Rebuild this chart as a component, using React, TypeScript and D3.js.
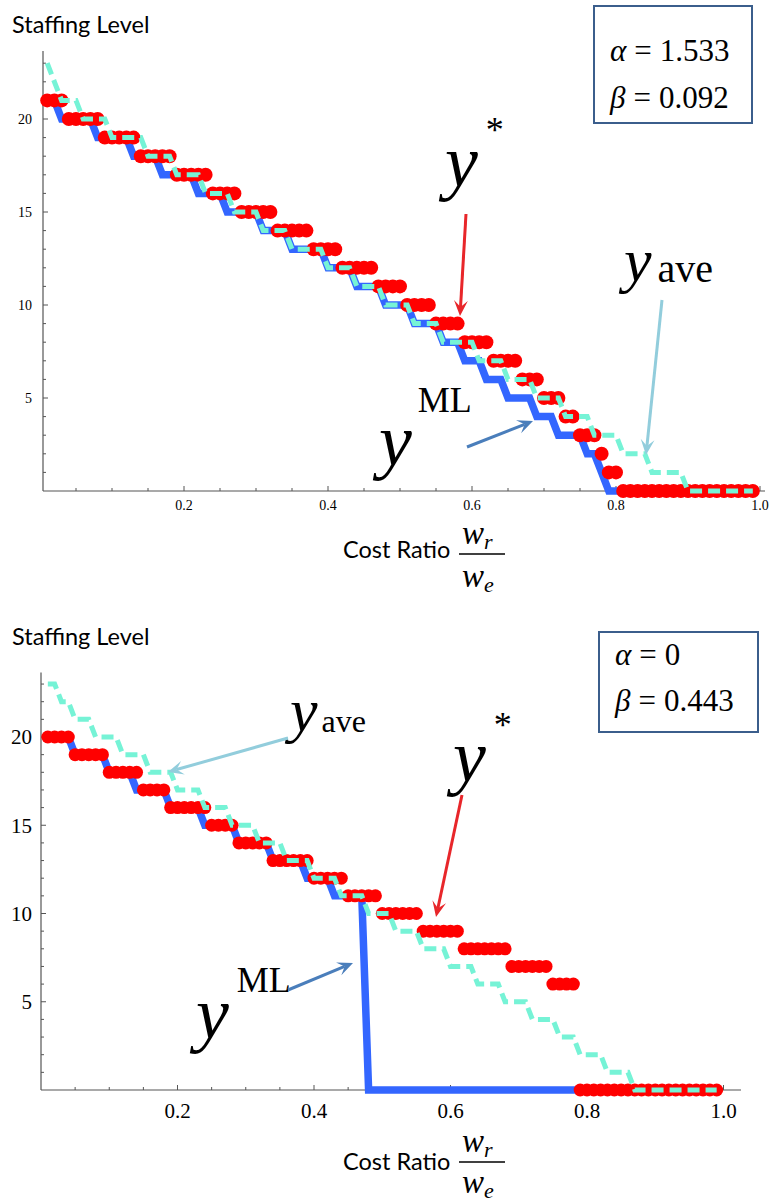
import { useEffect, useRef } from "react";
import * as d3 from "d3";

// cost ratio grid w_r / w_e sampled every 0.01
const costRatio = d3.range(1, 100).map((i) => i / 100);

// top panel (alpha = 1.533, beta = 0.092)
const topStar = [
  21, 21, 21, 20, 20, 20, 20, 20, 19, 19, 19, 19, 19, 18, 18, 18, 18, 18, 17, 17,
  17, 17, 17, 16, 16, 16, 16, 15, 15, 15, 15, 15, 14, 14, 14, 14, 14, 13, 13, 13,
  13, 12, 12, 12, 12, 12, 11, 11, 11, 11, 10, 10, 10, 10, 9, 9, 9, 9, 8, 8,
  8, 8, 7, 7, 7, 7, 6, 6, 6, 5, 5, 5, 4, 4, 3, 3, 3, 2, 1, 1,
  0, 0, 0, 0, 0, 0, 0, 0, 0, 0, 0, 0, 0, 0, 0, 0, 0, 0, 0,
];
const topML = [
  21, 21, 20, 20, 20, 20, 20, 19, 19, 19, 19, 19, 18, 18, 18, 18, 17, 17, 17, 17,
  17, 16, 16, 16, 16, 15, 15, 15, 15, 15, 14, 14, 14, 14, 13, 13, 13, 13, 13, 12,
  12, 12, 12, 11, 11, 11, 11, 10, 10, 10, 10, 9, 9, 9, 9, 8, 8, 8, 7, 7,
  7, 6, 6, 6, 5, 5, 5, 5, 4, 4, 4, 3, 3, 3, 3, 2, 2, 1, 0, 0,
  0, 0, 0, 0, 0, 0, 0, 0, 0, 0, 0, 0, 0, 0, 0, 0, 0, 0, 0,
];
const topAve = [
  23, 22, 21, 21, 21, 20, 20, 20, 20, 19, 19, 19, 19, 19, 18, 18, 18, 18, 17, 17,
  17, 17, 16, 16, 16, 16, 15, 15, 15, 15, 14, 14, 14, 14, 13, 13, 13, 13, 13, 12,
  12, 12, 12, 11, 11, 11, 11, 10, 10, 10, 10, 9, 9, 9, 9, 8, 8, 8, 8, 8,
  7, 7, 7, 7, 6, 6, 6, 6, 5, 5, 5, 5, 4, 4, 4, 4, 3, 3, 3, 3,
  2, 2, 2, 2, 1, 1, 1, 1, 1, 0, 0, 0, 0, 0, 0, 0, 0, 0, 0,
];

// bottom panel (alpha = 0, beta = 0.443)
const botStar = [
  20, 20, 20, 20, 19, 19, 19, 19, 19, 18, 18, 18, 18, 18, 17, 17, 17, 17, 16, 16,
  16, 16, 16, 16, 15, 15, 15, 15, 14, 14, 14, 14, 14, 13, 13, 13, 13, 13, 13, 12,
  12, 12, 12, 12, 11, 11, 11, 11, 11, 10, 10, 10, 10, 10, 10, 9, 9, 9, 9, 9,
  9, 8, 8, 8, 8, 8, 8, 8, 7, 7, 7, 7, 7, 7, 6, 6, 6, 6, 0, 0,
  0, 0, 0, 0, 0, 0, 0, 0, 0, 0, 0, 0, 0, 0, 0, 0, 0, 0, 0,
];
const botML = [
  20, 20, 20, 20, 19, 19, 19, 19, 19, 18, 18, 18, 18, 17, 17, 17, 17, 17, 16, 16,
  16, 16, 16, 15, 15, 15, 15, 15, 14, 14, 14, 14, 14, 13, 13, 13, 13, 13, 12, 12,
  12, 12, 11, 11, 11, 11, 11, 0, 0, 0, 0, 0, 0, 0, 0, 0, 0, 0, 0, 0,
  0, 0, 0, 0, 0, 0, 0, 0, 0, 0, 0, 0, 0, 0, 0, 0, 0, 0, 0, 0,
  0, 0, 0, 0, 0, 0, 0, 0, 0, 0, 0, 0, 0, 0, 0, 0, 0, 0, 0,
];
const botAve = [
  23, 23, 22, 22, 21, 21, 21, 20, 20, 20, 20, 19, 19, 19, 19, 18, 18, 18, 18, 17,
  17, 17, 17, 16, 16, 16, 16, 15, 15, 15, 15, 14, 14, 14, 14, 13, 13, 13, 13, 12,
  12, 12, 12, 11, 11, 11, 11, 10, 10, 10, 10, 9, 9, 9, 9, 8, 8, 8, 8, 7,
  7, 7, 7, 6, 6, 6, 6, 5, 5, 5, 5, 4, 4, 4, 4, 3, 3, 3, 2, 2,
  2, 2, 1, 1, 1, 1, 0, 0, 0, 0, 0, 0, 0, 0, 0, 0, 0, 0, 0,
];

const xMajor = [0.2, 0.4, 0.6, 0.8, 1.0];
const yMajor = [5, 10, 15, 20];

const RED = "#ff0000";
const BLUE = "#3366ff";
const CYAN = "#76f3d6";

const serif = "font-family: 'Liberation Serif', Tinos, 'Times New Roman', serif";
const sans = "font-family: Lato, 'Open Sans', sans-serif";

function arrow(g, x1, y1, x2, y2, color, w) {
  const a = Math.atan2(y2 - y1, x2 - x1);
  const len = 17, spread = 0.42, notch = 9;
  const bx = x2 - Math.cos(a) * notch, by = y2 - Math.sin(a) * notch;
  g.append("line")
    .attr("x1", x1).attr("y1", y1).attr("x2", bx).attr("y2", by)
    .attr("stroke", color).attr("stroke-width", w);
  const p = d3.path();
  p.moveTo(x2, y2);
  p.lineTo(x2 - Math.cos(a - spread) * len, y2 - Math.sin(a - spread) * len);
  p.lineTo(bx, by);
  p.lineTo(x2 - Math.cos(a + spread) * len, y2 - Math.sin(a + spread) * len);
  p.closePath();
  g.append("path").attr("d", p.toString()).attr("fill", color);
}

function drawPanel(svg, c) {
  const g = svg.append("g");
  const x = d3.scaleLinear().domain([0, 1]).range(c.xRange);
  const y = d3.scaleLinear().domain([0, 20]).range(c.yRange);

  // axes
  g.append("line").attr("x1", c.axisX).attr("x2", c.axisX)
    .attr("y1", y(23.65)).attr("y2", y(0)).attr("stroke", "#555").attr("stroke-width", 1.2);
  g.append("line").attr("x1", c.axisX).attr("x2", c.xEnd)
    .attr("y1", y(0)).attr("y2", y(0)).attr("stroke", "#555").attr("stroke-width", 1.2);

  const xMinor = d3.range(1, 21).map((i) => i / 20).filter((v) => Math.round(v * 100) % 20 !== 0);
  g.selectAll(".xminor").data(xMinor).join("line")
    .attr("x1", (d) => x(d)).attr("x2", (d) => x(d))
    .attr("y1", y(0)).attr("y2", y(0) - 3).attr("stroke", "#555");
  g.selectAll(".xmajor").data(xMajor).join("line")
    .attr("x1", (d) => x(d)).attr("x2", (d) => x(d))
    .attr("y1", y(0)).attr("y2", y(0) - 5).attr("stroke", "#555");
  g.selectAll(".xlab").data(xMajor).join("text")
    .attr("x", (d) => x(d)).attr("y", y(0) + c.xLabDy)
    .attr("text-anchor", "middle").attr("style", serif).attr("font-size", c.tickFont)
    .text((d) => d3.format(".1f")(d));

  const yMinor = d3.range(1, 24).filter((v) => v % 5 !== 0);
  g.selectAll(".yminor").data(yMinor).join("line")
    .attr("x1", c.axisX).attr("x2", c.axisX + 3)
    .attr("y1", (d) => y(d)).attr("y2", (d) => y(d)).attr("stroke", "#555");
  g.selectAll(".ymajor").data(yMajor).join("line")
    .attr("x1", c.axisX).attr("x2", c.axisX + 5)
    .attr("y1", (d) => y(d)).attr("y2", (d) => y(d)).attr("stroke", "#555");
  g.selectAll(".ylab").data(yMajor).join("text")
    .attr("x", c.yLabX).attr("y", (d) => y(d)).attr("dy", "0.35em")
    .attr("text-anchor", "end").attr("style", serif).attr("font-size", c.tickFont)
    .text((d) => d);

  const line = d3.line().x((d) => x(d[0])).y((d) => y(d[1]));

  g.append("path").datum(costRatio.map((v, i) => [v, c.ml[i]]))
    .attr("d", line).attr("fill", "none").attr("stroke", BLUE)
    .attr("stroke-width", 7.5).attr("stroke-linejoin", "miter");

  g.selectAll(".dot").data(costRatio.map((v, i) => [v, c.star[i]])).join("circle")
    .attr("cx", (d) => x(d[0])).attr("cy", (d) => y(d[1])).attr("r", c.r).attr("fill", RED);

  g.append("path").datum(costRatio.map((v, i) => [v, c.ave[i]]))
    .attr("d", line).attr("fill", "none").attr("stroke", CYAN)
    .attr("stroke-width", 5).attr("stroke-dasharray", "12,6");

  // axis titles
  g.append("text").attr("x", 12).attr("y", c.titleY).attr("style", sans)
    .attr("font-size", 23.5).text("Staffing Level");
  g.append("text").attr("x", 343).attr("y", c.costY).attr("style", sans)
    .attr("font-size", 23.5).text("Cost Ratio");
  g.append("line").attr("x1", 459).attr("x2", 505).attr("y1", c.fracY).attr("y2", c.fracY)
    .attr("stroke", "#000").attr("stroke-width", 1.3);
  const num = g.append("text").attr("x", 462).attr("y", c.fracY - 10)
    .attr("style", serif).attr("font-style", "italic").attr("font-size", 33);
  num.append("tspan").text("w");
  num.append("tspan").attr("dy", 5).attr("font-size", 22).text("r");
  const den = g.append("text").attr("x", 462).attr("y", c.denY)
    .attr("style", serif).attr("font-style", "italic").attr("font-size", 33);
  den.append("tspan").text("w");
  den.append("tspan").attr("dy", 5).attr("font-size", 22).text("e");

  // parameter box
  g.append("rect").attr("x", c.box[0]).attr("y", c.box[1]).attr("width", c.box[2])
    .attr("height", c.box[3]).attr("fill", "#fff").attr("stroke", "#3b5e8c").attr("stroke-width", 2);
  [["α", c.alpha, c.box[1] + c.boxRow[0]], ["β", c.beta, c.box[1] + c.boxRow[1]]].forEach(([s, v, yy]) => {
    const t = g.append("text").attr("x", c.box[0] + 16).attr("y", yy)
      .attr("style", serif).attr("font-size", 31);
    t.append("tspan").attr("font-style", "italic").text(s);
    t.append("tspan").attr("dx", 8).text("=");
    t.append("tspan").attr("dx", 8).text(v);
  });

  // series labels
  const lab = (px, py, size, sup, supSize, dx, dy) => {
    const t = g.append("text").attr("x", px).attr("y", py).attr("style", serif).attr("font-size", size);
    t.append("tspan").attr("font-style", "italic").text("y");
    t.append("tspan").attr("dx", dx).attr("dy", dy).attr("font-size", supSize).text(sup);
  };
  c.labels.forEach((l) => lab(...l));
  c.arrows.forEach((a) => arrow(g, ...a));
}

export default function App() {
  const ref = useRef(null);
  useEffect(() => {
    const svg = d3.select(ref.current);
    svg.selectAll("*").remove();
    drawPanel(svg, {
      xRange: [40, 760], yRange: [491, 119], axisX: 43, xEnd: 765,
      star: topStar, ml: topML, ave: topAve, r: 7,
      tickFont: 14, xLabDy: 19, yLabX: 32,
      titleY: 33, costY: 558, fracY: 554, denY: 587,
      box: [594, 6, 158, 117], boxRow: [55, 102], alpha: "1.533", beta: "0.092",
      labels: [
        [445, 186, 74, "*", 36, 8, -44],
        [624, 281, 62, "ave", 40, 6, 1],
        [379, 465, 74, "ML", 36, 6, -53],
      ],
      arrows: [
        [466, 214, 460, 316, "#e8262a", 3],
        [662, 300, 646, 455, "#92cddc", 3],
        [467, 447, 533, 421, "#4a7ebb", 3],
      ],
    });
    drawPanel(svg, {
      xRange: [41, 723.5], yRange: [1090, 737], axisX: 41, xEnd: 741,
      star: botStar, ml: botML, ave: botAve, r: 6.5,
      tickFont: 21, xLabDy: 28, yLabX: 32,
      titleY: 645, costY: 1170, fracY: 1162, denY: 1193,
      box: [599, 632, 159, 100], boxRow: [33, 79], alpha: "0", beta: "0.443",
      labels: [
        [453, 781, 74, "*", 36, 8, -44],
        [290, 731, 62, "ave", 32, 4, 1],
        [196, 1038, 74, "ML", 36, 8, -46],
      ],
      arrows: [
        [462, 795, 436, 917, "#e8262a", 3],
        [288, 738, 168, 772, "#92cddc", 3],
        [288, 990, 353, 963, "#4a7ebb", 3],
      ],
    });
  }, []);
  return (
    <svg ref={ref} width={770} height={1202}
      style={{ position: "absolute", left: 0, top: 0, background: "#fff" }} />
  );
}
